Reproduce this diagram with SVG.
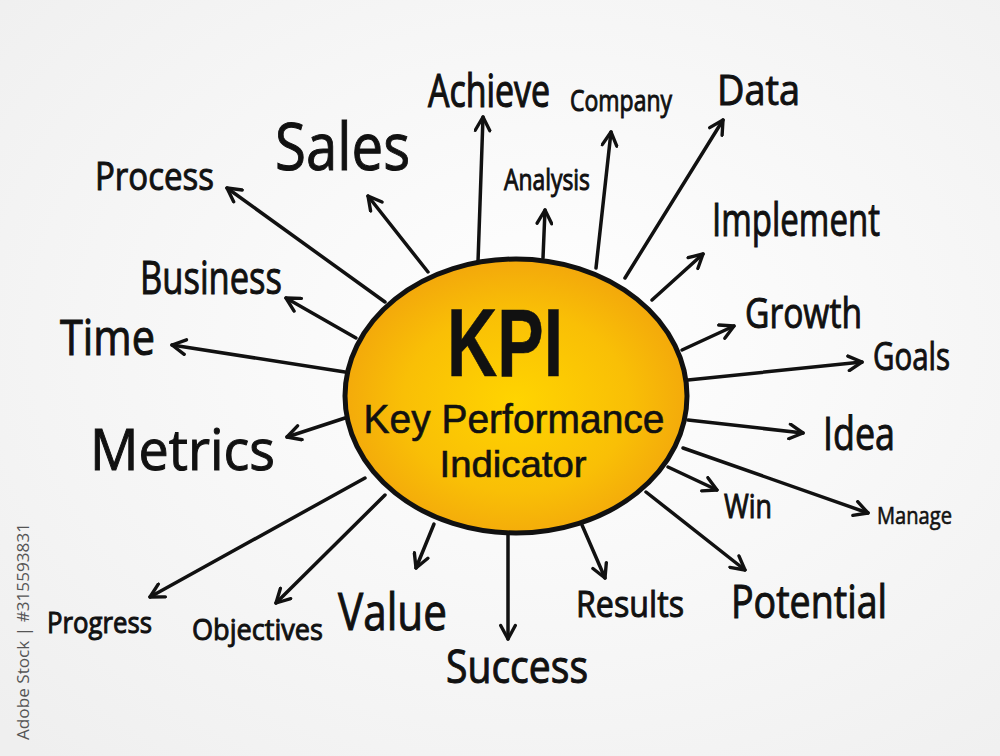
<svg xmlns="http://www.w3.org/2000/svg" width="1000" height="756" viewBox="0 0 1000 756">
<defs>
<radialGradient id="bg" cx="55%" cy="45%" r="75%">
<stop offset="0" stop-color="#ffffff"/>
<stop offset="1" stop-color="#efefef"/>
</radialGradient>
<radialGradient id="sun" cx="50%" cy="52%" r="55%">
<stop offset="0" stop-color="#ffd400"/>
<stop offset="0.6" stop-color="#f9bf06"/>
<stop offset="1" stop-color="#f2a40c"/>
</radialGradient>
<marker id="ah" viewBox="0 0 16 16" refX="14" refY="8" markerWidth="18" markerHeight="18" markerUnits="userSpaceOnUse" orient="auto">
<path d="M2,1.5 L14,8 L2,14.5" fill="none" stroke="#111" stroke-width="3" stroke-linecap="round" stroke-linejoin="round"/>
</marker>
<style>
.t{font-family:"Open Sans","Liberation Sans",sans-serif;fill:#111;stroke:#111;stroke-width:1;}
.k{font-family:"Liberation Sans","Open Sans",sans-serif;fill:#111;stroke:#111;stroke-width:0.6;}
.c line{stroke:#111;stroke-width:3.5;stroke-linecap:round;marker-end:url(#ah);}
</style>
</defs>
<rect width="1000" height="756" fill="url(#bg)"/>
<g class="c" id="connectors">
<line x1="478" y1="262" x2="483" y2="117"/>
<line x1="543" y1="258" x2="545" y2="210"/>
<line x1="596" y1="268" x2="611" y2="132"/>
<line x1="625" y1="278" x2="723" y2="120"/>
<line x1="428" y1="272" x2="368" y2="196"/>
<line x1="385" y1="302" x2="227" y2="188"/>
<line x1="356" y1="338" x2="286" y2="298"/>
<line x1="345" y1="372" x2="172" y2="345"/>
<line x1="345" y1="418" x2="287" y2="437"/>
<line x1="365" y1="478" x2="150" y2="597"/>
<line x1="385" y1="495" x2="276" y2="603"/>
<line x1="434" y1="524" x2="416" y2="568"/>
<line x1="508" y1="535" x2="508" y2="639"/>
<line x1="582" y1="525" x2="605" y2="578"/>
<line x1="646" y1="492" x2="745" y2="570"/>
<line x1="668" y1="467" x2="717" y2="490"/>
<line x1="683" y1="448" x2="868" y2="513"/>
<line x1="688" y1="420" x2="803" y2="433"/>
<line x1="688" y1="380" x2="862" y2="362"/>
<line x1="682" y1="350" x2="734" y2="326"/>
<line x1="652" y1="300" x2="703" y2="254"/>
</g>
<g id="center">
<ellipse cx="516" cy="396" rx="171" ry="137" fill="url(#sun)" stroke="#111" stroke-width="5"/>
<text class="k" x="505" y="376" font-size="96" font-weight="bold" text-anchor="middle" textLength="116" lengthAdjust="spacingAndGlyphs">KPI</text>
<text class="k" x="514" y="433" font-size="40" text-anchor="middle" textLength="301" lengthAdjust="spacingAndGlyphs">Key Performance</text>
<text class="k" x="513" y="477" font-size="37" text-anchor="middle" textLength="147" lengthAdjust="spacingAndGlyphs">Indicator</text>
</g>
<g id="achieve"><text class="t" transform="translate(428 107) scale(1 1.2)" font-size="38" textLength="122" lengthAdjust="spacingAndGlyphs">Achieve</text></g>
<g id="company"><text class="t" x="570" y="111" font-size="30" textLength="102" lengthAdjust="spacingAndGlyphs">Company</text></g>
<g id="data"><text class="t" x="717" y="105" font-size="42" textLength="83" lengthAdjust="spacingAndGlyphs">Data</text></g>
<g id="sales"><text class="t" x="275" y="170" font-size="66" textLength="135" lengthAdjust="spacingAndGlyphs">Sales</text></g>
<g id="process"><text class="t" x="95" y="190" font-size="39" textLength="119" lengthAdjust="spacingAndGlyphs">Process</text></g>
<g id="analysis"><text class="t" x="504" y="190" font-size="29" textLength="86" lengthAdjust="spacingAndGlyphs">Analysis</text></g>
<g id="implement"><text class="t" x="712" y="236" font-size="45" textLength="168" lengthAdjust="spacingAndGlyphs">Implement</text></g>
<g id="business"><text class="t" x="140" y="294" font-size="46" textLength="142" lengthAdjust="spacingAndGlyphs">Business</text></g>
<g id="growth"><text class="t" x="745" y="328" font-size="42" textLength="117" lengthAdjust="spacingAndGlyphs">Growth</text></g>
<g id="time"><text class="t" x="60" y="355" font-size="50" textLength="95" lengthAdjust="spacingAndGlyphs">Time</text></g>
<g id="goals"><text class="t" x="873" y="370" font-size="38" textLength="77" lengthAdjust="spacingAndGlyphs">Goals</text></g>
<g id="metrics"><text class="t" x="90" y="470" font-size="57" textLength="185" lengthAdjust="spacingAndGlyphs">Metrics</text></g>
<g id="idea"><text class="t" x="823" y="450" font-size="46" textLength="72" lengthAdjust="spacingAndGlyphs">Idea</text></g>
<g id="win"><text class="t" x="724" y="518" font-size="33" textLength="48" lengthAdjust="spacingAndGlyphs">Win</text></g>
<g id="manage"><text class="t" x="877" y="524" font-size="23" textLength="75" lengthAdjust="spacingAndGlyphs" style="stroke-width:0.6">Manage</text></g>
<g id="progress"><text class="t" x="47" y="633" font-size="29" textLength="105" lengthAdjust="spacingAndGlyphs">Progress</text></g>
<g id="objectives"><text class="t" x="192" y="640" font-size="30" textLength="131" lengthAdjust="spacingAndGlyphs">Objectives</text></g>
<g id="value"><text class="t" x="338" y="630" font-size="52" textLength="109" lengthAdjust="spacingAndGlyphs">Value</text></g>
<g id="results"><text class="t" x="576" y="617" font-size="37" textLength="108" lengthAdjust="spacingAndGlyphs">Results</text></g>
<g id="potential"><text class="t" x="731" y="618" font-size="45" textLength="156" lengthAdjust="spacingAndGlyphs">Potential</text></g>
<g id="success"><text class="t" x="446" y="683" font-size="45" textLength="142" lengthAdjust="spacingAndGlyphs">Success</text></g>
<text x="29" y="740" transform="rotate(-90 29 740)" font-family="'Open Sans','Liberation Sans',sans-serif" font-size="17" fill="#555" textLength="217" lengthAdjust="spacingAndGlyphs">Adobe Stock | #315593831</text>
</svg>
